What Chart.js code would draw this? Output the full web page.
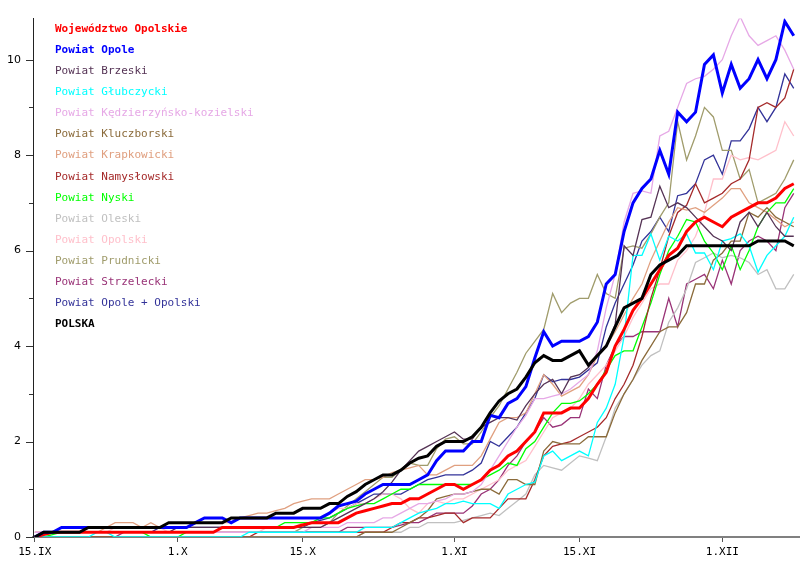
<!DOCTYPE html>
<html>
<head>
<meta charset="utf-8">
<script src="https://cdn.jsdelivr.net/npm/chart.js@4.4.0/dist/chart.umd.min.js"></script>
<style>
    body { margin: 0; background: #ffffff; }
</style>
</head>
<body>
<canvas id="wykres" width="800" height="562"></canvas>
<script>
// dni od 15.IX, podpisy osi
var tick_dni = [0, 16, 30, 47, 61, 77];
var tick_etykiety = ['15.IX', '1.X', '15.X', '1.XI', '15.XI', '1.XII'];
var tick_y = [0, 1, 2, 3, 4, 5, 6, 7, 8, 9, 10];

var woj_opolskie = [0, 0.05, 0.1, 0.1, 0.1, 0.1, 0.1, 0.1, 0.1, 0.1,
    0.1, 0.1, 0.1, 0.1, 0.1, 0.1, 0.1, 0.1, 0.1, 0.1,
    0.1, 0.2, 0.2, 0.2, 0.2, 0.2, 0.2, 0.2, 0.2, 0.2,
    0.25, 0.3, 0.3, 0.3, 0.3, 0.4, 0.5, 0.55, 0.6, 0.65,
    0.7, 0.7, 0.8, 0.8, 0.9, 1.0, 1.1, 1.1, 1.0, 1.1,
    1.2, 1.4, 1.5, 1.7, 1.8, 2.0, 2.2, 2.6, 2.6, 2.6,
    2.7, 2.7, 2.9, 3.2, 3.45, 4.0, 4.35, 4.75, 5.0, 5.3,
    5.6, 5.9, 6.05, 6.4, 6.6, 6.7, 6.6, 6.5, 6.7, 6.8,
    6.9, 7.0, 7.0, 7.1, 7.3, 7.4];

var powiat_opole = [0, 0.1, 0.1, 0.2, 0.2, 0.2, 0.2, 0.2, 0.2, 0.2,
    0.2, 0.2, 0.2, 0.2, 0.2, 0.2, 0.2, 0.2, 0.3, 0.4,
    0.4, 0.4, 0.3, 0.4, 0.4, 0.4, 0.4, 0.4, 0.4, 0.4,
    0.4, 0.4, 0.4, 0.5, 0.65, 0.7, 0.75, 0.9, 1.0, 1.1,
    1.1, 1.1, 1.1, 1.2, 1.3, 1.6, 1.8, 1.8, 1.8, 2.0,
    2.0, 2.55, 2.5, 2.8, 2.9, 3.15, 3.75, 4.3, 4.0, 4.1,
    4.1, 4.1, 4.2, 4.5, 5.3, 5.5, 6.4, 7.0, 7.3, 7.5,
    8.1, 7.6, 8.9, 8.7, 8.9, 9.9, 10.1, 9.3, 9.9, 9.4,
    9.6, 10.0, 9.6, 10.0, 10.8, 10.5];

var brzeski = [0, 0.1, 0.1, 0.1, 0.1, 0.1, 0.1, 0.1, 0.1, 0.1,
    0.1, 0.1, 0.1, 0.1, 0.1, 0.1, 0.2, 0.2, 0.2, 0.2,
    0.2, 0.2, 0.2, 0.2, 0.2, 0.2, 0.2, 0.2, 0.2, 0.2,
    0.2, 0.2, 0.2, 0.3, 0.4, 0.5, 0.6, 0.7, 0.8, 0.95,
    1.15, 1.4, 1.6, 1.8, 1.9, 2.0, 2.1, 2.2, 2.05, 2.05,
    2.3, 2.4, 2.5, 2.5, 2.45, 2.75, 3.0, 3.2, 3.3, 3.0,
    3.35, 3.4, 3.55, 3.8, 4.0, 4.45, 6.1, 5.9, 6.65, 6.7,
    7.35, 6.9, 7.0, 6.9, 6.7, 6.5, 6.3, 6.2, 6.0, 6.6,
    6.8, 6.5, 6.8, 6.5, 6.3, 6.3];

var glubczycki = [0, 0, 0, 0, 0, 0, 0, 0.1, 0.1, 0,
    0, 0, 0, 0, 0, 0, 0, 0, 0, 0,
    0, 0, 0, 0, 0.1, 0.1, 0.1, 0.1, 0.1, 0.1,
    0.1, 0.1, 0.1, 0.1, 0.1, 0.1, 0.1, 0.2, 0.2, 0.2,
    0.2, 0.3, 0.4, 0.5, 0.55, 0.6, 0.7, 0.7, 0.75, 0.7,
    0.7, 0.7, 0.6, 0.9, 1.0, 1.1, 1.15, 1.7, 1.8, 1.6,
    1.7, 1.8, 1.7, 2.4, 2.7, 3.2, 4.2, 5.9, 5.9, 6.35,
    5.8, 6.3, 6.2, 6.35, 5.95, 5.95, 5.6, 6.2, 6.25, 6.35,
    6.1, 5.55, 5.9, 6.1, 6.3, 6.7];

var kedzierzyn = [0.1, 0.1, 0.1, 0.1, 0.1, 0.1, 0.1, 0.1, 0.1, 0.1,
    0.1, 0.1, 0.1, 0.1, 0.1, 0.1, 0.1, 0.1, 0.1, 0.1,
    0.1, 0.1, 0.1, 0.1, 0.1, 0.1, 0.1, 0.1, 0.1, 0.1,
    0.1, 0.2, 0.2, 0.2, 0.2, 0.3, 0.3, 0.3, 0.3, 0.4,
    0.4, 0.5, 0.6, 0.7, 0.7, 0.75, 0.8, 0.9, 0.9, 0.95,
    1.1, 1.4, 1.7, 2.0, 2.3, 2.55, 2.9, 2.9, 2.95, 3.0,
    3.1, 3.25, 3.4, 3.9, 4.8, 5.5, 6.6, 7.2, 7.25, 7.2,
    8.4, 8.5, 9.0, 9.5, 9.6, 9.65, 9.8, 10.0, 10.5, 10.9,
    10.5, 10.3, 10.4, 10.5, 10.2, 9.8];

var kluczborski = [0, 0, 0, 0, 0, 0, 0, 0, 0, 0,
    0, 0, 0, 0, 0, 0, 0, 0, 0, 0,
    0, 0, 0, 0, 0, 0, 0, 0, 0, 0,
    0, 0, 0, 0, 0, 0, 0, 0.1, 0.1, 0.1,
    0.1, 0.2, 0.3, 0.4, 0.55, 0.8, 0.85, 0.9, 0.9, 0.95,
    1.0, 1.0, 0.9, 1.2, 1.2, 1.1, 1.1, 1.8, 2.0, 1.95,
    1.95, 1.95, 2.1, 2.1, 2.1, 2.6, 3.0, 3.3, 3.7, 4.0,
    4.3, 4.4, 4.4, 4.7, 5.3, 5.3, 5.8, 5.95, 6.2, 6.2,
    6.8, 6.7, 6.9, 6.7, 6.6, 6.5];

var krapkowicki = [0.1, 0.1, 0.1, 0.1, 0.1, 0.1, 0.1, 0.1, 0.2, 0.3,
    0.3, 0.3, 0.2, 0.3, 0.2, 0.3, 0.3, 0.3, 0.3, 0.3,
    0.3, 0.3, 0.3, 0.4, 0.45, 0.5, 0.5, 0.55, 0.6, 0.7,
    0.75, 0.8, 0.8, 0.8, 0.9, 1.0, 1.1, 1.2, 1.2, 1.25,
    1.35, 1.4, 1.45, 1.5, 1.3, 1.3, 1.4, 1.5, 1.5, 1.5,
    1.7, 2.05, 2.4, 2.5, 2.5, 2.6, 3.0, 3.4, 3.2, 2.95,
    3.05, 3.15, 3.4, 3.8, 4.0, 4.3, 4.65, 5.0, 5.3, 5.8,
    6.2, 6.6, 6.9, 6.85, 6.9, 6.8, 6.95, 7.1, 7.3, 7.3,
    7.0, 6.9, 6.8, 6.65, 6.5, 6.6];

var namyslowski = [0, 0, 0, 0, 0, 0, 0, 0, 0, 0,
    0, 0, 0, 0, 0, 0, 0, 0, 0, 0,
    0, 0, 0, 0, 0, 0.1, 0.1, 0.1, 0.1, 0.1,
    0.1, 0.1, 0.1, 0.1, 0.1, 0.1, 0.1, 0.1, 0.1, 0.1,
    0.2, 0.3, 0.3, 0.4, 0.4, 0.45, 0.5, 0.5, 0.3, 0.4,
    0.4, 0.4, 0.6, 0.8, 0.8, 0.8, 1.2, 1.7, 1.9, 1.95,
    2.0, 2.1, 2.2, 2.3, 2.5, 2.9, 3.2, 3.6, 4.2, 5.0,
    5.6, 6.3, 6.8, 6.95, 7.4, 7.0, 7.1, 7.2, 7.4, 7.5,
    7.9, 9.0, 9.1, 9.0, 9.2, 9.8];

var nyski = [0, 0, 0.05, 0.1, 0.1, 0.1, 0.1, 0.1, 0.1, 0.1,
    0.1, 0.1, 0.1, 0, 0, 0, 0, 0.1, 0.1, 0.1,
    0.1, 0.2, 0.2, 0.2, 0.2, 0.2, 0.2, 0.2, 0.3, 0.3,
    0.3, 0.3, 0.4, 0.4, 0.5, 0.6, 0.65, 0.7, 0.7, 0.8,
    0.9, 1.0, 1.0, 1.1, 1.1, 1.1, 1.1, 1.1, 1.1, 1.1,
    1.2, 1.3, 1.4, 1.55, 1.5, 1.85, 2.0, 2.3, 2.6, 2.8,
    2.8, 2.85, 3.0, 3.2, 3.5, 3.8, 3.9, 3.9, 4.4, 4.9,
    5.5, 6.0, 6.3, 6.65, 6.6, 6.2, 5.95, 5.6, 6.1, 5.6,
    6.0, 6.5, 6.8, 7.0, 7.0, 7.3];

var oleski = [0, 0, 0, 0, 0, 0, 0, 0, 0, 0,
    0, 0, 0, 0, 0, 0, 0, 0, 0, 0,
    0, 0, 0, 0, 0, 0, 0, 0, 0, 0,
    0, 0, 0, 0, 0, 0, 0, 0.1, 0.1, 0.1,
    0.1, 0.1, 0.2, 0.2, 0.3, 0.3, 0.3, 0.3, 0.35, 0.4,
    0.45, 0.5, 0.45, 0.6, 0.75, 0.9, 1.3, 1.5, 1.45, 1.4,
    1.55, 1.7, 1.65, 1.6, 2.1, 2.7, 3.0, 3.3, 3.6, 3.8,
    3.9, 4.5, 4.8, 5.2, 5.75, 5.85, 5.95, 5.85, 5.9, 5.85,
    5.75, 5.5, 5.6, 5.2, 5.2, 5.5];

var opolski = [0.1, 0.1, 0.1, 0.1, 0.1, 0.1, 0.1, 0.1, 0.1, 0.2,
    0.2, 0.2, 0.2, 0.2, 0.2, 0.1, 0.1, 0.1, 0.1, 0.1,
    0.1, 0.1, 0.1, 0.1, 0.1, 0.1, 0.2, 0.2, 0.2, 0.2,
    0.3, 0.3, 0.4, 0.5, 0.6, 0.6, 0.7, 0.7, 0.8, 0.9,
    0.9, 0.8, 0.6, 0.5, 0.7, 0.75, 0.7, 0.8, 0.8, 0.9,
    1.0, 1.1, 1.2, 1.4, 1.5, 1.6, 1.9, 2.2, 2.5, 2.6,
    2.7, 2.9, 3.2, 3.4, 3.6, 3.9, 4.2, 4.6, 4.9, 5.2,
    5.3, 5.3, 5.8, 6.0, 6.3, 6.8, 7.5, 7.5, 8.0, 7.9,
    7.95, 7.9, 8.0, 8.1, 8.7, 8.4];

var prudnicki = [0, 0.1, 0.1, 0.1, 0.1, 0.1, 0.1, 0.1, 0.1, 0.1,
    0.1, 0.1, 0.1, 0.1, 0.1, 0.1, 0.1, 0.1, 0.1, 0.1,
    0.1, 0.1, 0.1, 0.1, 0.1, 0.1, 0.1, 0.1, 0.1, 0.1,
    0.2, 0.2, 0.2, 0.3, 0.5, 0.65, 0.8, 0.95, 1.1, 1.25,
    1.25, 1.4, 1.55, 1.5, 1.5, 1.85, 2.05, 2.1, 1.95, 1.95,
    2.2, 2.5, 2.75, 3.1, 3.45, 3.85, 4.1, 4.35, 5.1, 4.7,
    4.9, 5.0, 5.0, 5.5, 5.1, 5.0, 6.05, 6.1, 6.05, 6.35,
    6.7, 7.0, 8.7, 7.9, 8.4, 9.0, 8.8, 8.1, 8.1, 7.5,
    7.7, 7.0, 7.1, 7.2, 7.5, 7.9];

var strzelecki = [0, 0, 0, 0, 0, 0, 0, 0, 0, 0,
    0.1, 0.1, 0.1, 0.1, 0.1, 0.1, 0.1, 0.1, 0.1, 0.1,
    0.1, 0.1, 0.1, 0.1, 0.1, 0.1, 0.1, 0.1, 0.1, 0.1,
    0.1, 0.1, 0.1, 0.1, 0.1, 0.2, 0.2, 0.2, 0.2, 0.2,
    0.2, 0.25, 0.3, 0.3, 0.4, 0.5, 0.5, 0.5, 0.5, 0.65,
    0.9, 1.0, 1.2, 1.5, 1.7, 2.0, 2.2, 2.5, 2.3, 2.35,
    2.5, 2.5, 3.1, 2.9, 3.6, 4.0, 4.2, 4.2, 4.3, 4.3,
    4.3, 5.0, 4.4, 5.3, 5.4, 5.5, 5.2, 5.8, 5.3, 6.0,
    6.2, 6.3, 6.2, 6.0, 6.9, 7.2];

var opole_opolski = [0, 0.1, 0.1, 0.1, 0.1, 0.1, 0.1, 0.1, 0.1, 0.1,
    0.1, 0.1, 0.1, 0.1, 0.2, 0.2, 0.2, 0.2, 0.2, 0.2,
    0.2, 0.2, 0.2, 0.2, 0.2, 0.2, 0.2, 0.2, 0.2, 0.2,
    0.2, 0.3, 0.35, 0.4, 0.5, 0.6, 0.7, 0.8, 0.9, 0.9,
    0.9, 0.9, 1.0, 1.1, 1.2, 1.25, 1.3, 1.3, 1.3, 1.4,
    1.55, 2.0, 1.9, 2.1, 2.3, 2.6, 2.9, 3.4, 3.25, 3.3,
    3.3, 3.35, 3.5, 3.65, 4.4, 4.9, 5.3, 5.7, 6.2, 6.4,
    6.7, 6.4, 7.15, 7.2, 7.4, 7.9, 8.0, 7.6, 8.3, 8.3,
    8.55, 9.0, 8.7, 9.0, 9.7, 9.4];

var polska = [0, 0.1, 0.1, 0.1, 0.1, 0.1, 0.2, 0.2, 0.2, 0.2,
    0.2, 0.2, 0.2, 0.2, 0.2, 0.3, 0.3, 0.3, 0.3, 0.3,
    0.3, 0.3, 0.4, 0.4, 0.4, 0.4, 0.4, 0.5, 0.5, 0.5,
    0.6, 0.6, 0.6, 0.7, 0.7, 0.85, 0.95, 1.1, 1.2, 1.3,
    1.3, 1.4, 1.55, 1.65, 1.7, 1.9, 2.0, 2.0, 2.0, 2.1,
    2.3, 2.6, 2.85, 3.0, 3.1, 3.35, 3.65, 3.8, 3.7, 3.7,
    3.8, 3.9, 3.6, 3.8, 4.0, 4.4, 4.8, 4.9, 5.0, 5.5,
    5.7, 5.8, 5.9, 6.1, 6.1, 6.1, 6.1, 6.1, 6.1, 6.1,
    6.1, 6.2, 6.2, 6.2, 6.2, 6.1];

var nazwy = ['Województwo Opolskie', 'Powiat Opole', 'Powiat Brzeski', 'Powiat Głubczycki',
    'Powiat Kędzierzyńsko-kozielski', 'Powiat Kluczborski', 'Powiat Krapkowicki',
    'Powiat Namysłowski', 'Powiat Nyski', 'Powiat Oleski', 'Powiat Opolski',
    'Powiat Prudnicki', 'Powiat Strzelecki', 'Powiat Opole + Opolski', 'POLSKA'];
var serie = [woj_opolskie, powiat_opole, brzeski, glubczycki, kedzierzyn, kluczborski,
    krapkowicki, namyslowski, nyski, oleski, opolski, prudnicki, strzelecki, opole_opolski, polska];
var kolory = ['#ff0000', '#0000ff', '#553355', '#00ffff', '#e6a8e6', '#8b6b3b', '#e0a080',
    '#a52a2a', '#00ff00', '#c0c0c0', '#ffc0cb', '#a09c6c', '#993377', '#333399', '#000000'];
var grube = [true, true, false, false, false, false, false, false, false, false, false, false, false, false, true];
var kolejnosc = [2, 1, 3, 3, 3, 3, 3, 3, 3, 3, 3, 3, 3, 3, 0];

var datasets = [];
for (let i = 0; i < serie.length; i++) {
    datasets.push({
        label: nazwy[i],
        data: serie[i].map(function (v, d) { return { x: d, y: v }; }),
        borderColor: kolory[i],
        borderWidth: grube[i] ? 3 : 1.3,
        pointRadius: 0,
        tension: 0,
        order: kolejnosc[i]
    });
}

// legenda jako kolorowy tekst w lewym gornym rogu
var legenda = {
    id: 'legenda',
    afterDraw: function (chart) {
        var ctx = chart.ctx;
        ctx.save();
        ctx.textBaseline = 'middle';
        ctx.textAlign = 'left';
        for (let i = 0; i < nazwy.length; i++) {
            ctx.font = (grube[i] ? 'bold ' : '') + '11px "DejaVu Sans Mono"';
            ctx.fillStyle = kolory[i];
            ctx.fillText(nazwy[i], 55, 29 + i * 21.1);
        }
        ctx.restore();
    }
};

// kreski na osi y: dluzsze przy podpisanych wartosciach
var kreski_y = {
    id: 'kreski_y',
    afterDraw: function (chart) {
        var sy = chart.scales.y;
        var ctx = chart.ctx;
        ctx.save();
        ctx.strokeStyle = '#333333';
        ctx.lineWidth = 1;
        sy.ticks.forEach(function (t) {
            var py = Math.round(sy.getPixelForValue(t.value)) + 0.5;
            var len = t.value % 2 == 0 ? 7 : 4;
            ctx.beginPath();
            ctx.moveTo(sy.right - len, py);
            ctx.lineTo(sy.right, py);
            ctx.stroke();
        });
        ctx.restore();
    }
};

new Chart(document.getElementById('wykres'), {
    type: 'line',
    data: { datasets: datasets },
    options: {
        responsive: false,
        animation: false,
        layout: { padding: { top: 8, right: 0, left: 0, bottom: 0 } },
        plugins: { legend: { display: false }, tooltip: { enabled: false } },
        scales: {
            x: {
                type: 'linear',
                min: -0.2,
                max: 85.7,
                afterBuildTicks: function (s) {
                    s.ticks = tick_dni.map(function (v) { return { value: v }; });
                },
                afterFit: function (s) { s.height = 25; },
                grid: { display: true, drawOnChartArea: false, drawTicks: true, tickLength: 5, color: '#555555' },
                border: { display: true, color: '#808080', width: 2 },
                ticks: {
                    autoSkip: false,
                    maxRotation: 0,
                    padding: 4,
                    color: '#000000',
                    font: { family: 'DejaVu Sans Mono', size: 11 },
                    callback: function (v) {
                        var k = tick_dni.indexOf(v);
                        return k >= 0 ? tick_etykiety[k] : '';
                    }
                }
            },
            y: {
                min: 0,
                max: 10.86,
                afterBuildTicks: function (s) {
                    s.ticks = tick_y.map(function (v) { return { value: v }; });
                },
                afterFit: function (s) { s.width = 33; },
                grid: { display: true, drawOnChartArea: false, drawTicks: false },
                border: { display: true, color: '#222222', width: 1 },
                ticks: {
                    padding: 12,
                    color: '#000000',
                    font: { family: 'DejaVu Sans', size: 11 },
                    callback: function (v) { return v % 2 == 0 ? v : ''; }
                }
            }
        }
    },
    plugins: [legenda, kreski_y]
});
</script>
</body>
</html>
